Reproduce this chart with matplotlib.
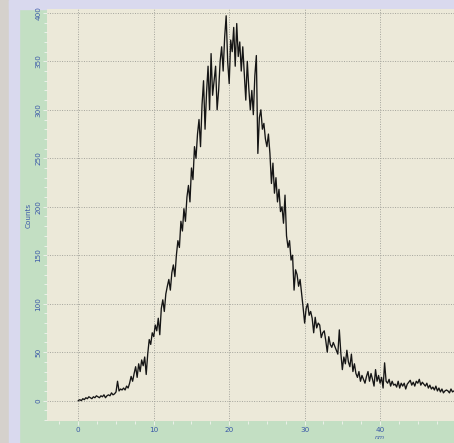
import matplotlib.pyplot as plt
import matplotlib.patches as mpatches
import numpy as np
from matplotlib.ticker import MultipleLocator

# Size distribution, counts per 0.2 nm bin starting at 0 nm
bin_start = 0.0
bin_width = 0.2
counts = [
    0, 1, 0, 2, 1,        3, 2, 4, 3, 2,        4, 3, 5, 4, 3,
    5, 4, 6, 3, 5,        6, 5, 8, 6, 7,        9, 20, 10, 12, 11,
    13, 11, 15, 13, 18,   25, 20, 28, 35, 24,   38, 30, 42, 36, 45,
    27, 48, 63, 58, 70,   66, 78, 72, 85, 68,   95, 104, 92, 110, 118,
    125, 114, 132, 140, 128,   150, 165, 158, 185, 175,   198, 185, 210, 222, 205,
    240, 228, 262, 250, 275,   290, 262, 305, 330, 280,   318, 345, 300, 358, 315,
    330, 345, 300, 320, 350,   365, 340, 375, 397, 350,   327, 372, 360, 385, 345,
    389, 355, 370, 340, 365,   338, 310, 350, 322, 300,   320, 295, 335, 356, 255,
    292, 300, 280, 286, 270,   262, 275, 255, 224, 245,   214, 230, 205, 218, 195,
    200, 183, 212, 170, 158,   165, 145, 150, 114, 135,   130, 118, 125, 111, 96,
    80, 95, 100, 88, 92,      85, 70, 86, 75, 80,      78, 65, 70, 72, 62,
    50, 66, 58, 55, 60,      56, 52, 48, 73, 49,      32, 45, 38, 52, 40,
    35, 48, 30, 38, 28,      24, 30, 20, 26, 22,      18, 25, 30, 20, 28,
    22, 15, 32, 20, 26,      18, 24, 13, 39, 20,      18, 22, 15, 20, 16,
    17, 14, 20, 13, 18,      15, 18, 12, 17, 19,      21, 16, 19, 15, 20,
    18, 22, 16, 19, 17,      15, 18, 13, 16, 12,      14, 11, 15, 10, 13,
    9, 12, 8, 10, 11,        10, 8, 12, 9, 10,
]
size_nm = bin_start + bin_width * np.arange(len(counts))

W, H = 454, 443
fig = plt.figure(figsize=(W / 100, H / 100), dpi=100)
fig.patch.set_facecolor('#c3dfc3')

# window frame strips
fig.add_artist(mpatches.Rectangle((0, 0), 9 / W, 1, transform=fig.transFigure,
                                  color='#d5d1cc', zorder=0))
fig.add_artist(mpatches.Rectangle((9 / W, 0), 10 / W, 1, transform=fig.transFigure,
                                  color='#d9d9ee', zorder=0))
fig.add_artist(mpatches.Rectangle((9 / W, 1 - 9 / H), 1, 9 / H, transform=fig.transFigure,
                                  color='#d9d9ee', zorder=0))

ax = fig.add_axes([47 / W, 22 / H, (W - 47) / W, (421 - 9) / H])
ax.set_facecolor('#ece9d9')

ax.plot(size_nm, counts, color='#151515', lw=0.95)

ax.set_xlim(-4.15, 49.8)
ax.set_ylim(-21, 404)
ax.xaxis.set_major_locator(MultipleLocator(10))
ax.xaxis.set_minor_locator(MultipleLocator(2.5))
ax.yaxis.set_major_locator(MultipleLocator(50))
ax.yaxis.set_minor_locator(MultipleLocator(10))

ax.grid(True, which='major', color='#a4a49c', linestyle=(0, (1, 1.5)), lw=0.7)
for s in ax.spines.values():
    s.set_visible(False)

blue = '#3a58a8'
ax.tick_params(axis='both', which='both', colors='#f4f4f0', direction='out',
               labelcolor=blue, labelsize=5.2)
ax.tick_params(axis='both', which='major', length=3, width=0.6)
ax.tick_params(axis='both', which='minor', length=2, width=0.6)
ax.tick_params(axis='y', which='major', labelrotation=90, pad=1)
ax.tick_params(axis='x', which='major', pad=1.5)
for lbl in ax.get_yticklabels():
    lbl.set_va('center')

ax.set_ylabel('Counts', color=blue, fontsize=5.2, labelpad=3)
ax.text(40, -0.039, 'nm', transform=ax.get_xaxis_transform(), color=blue,
        fontsize=4.5, ha='center', va='center', style='italic')

fig.savefig('out.png', dpi=100)
